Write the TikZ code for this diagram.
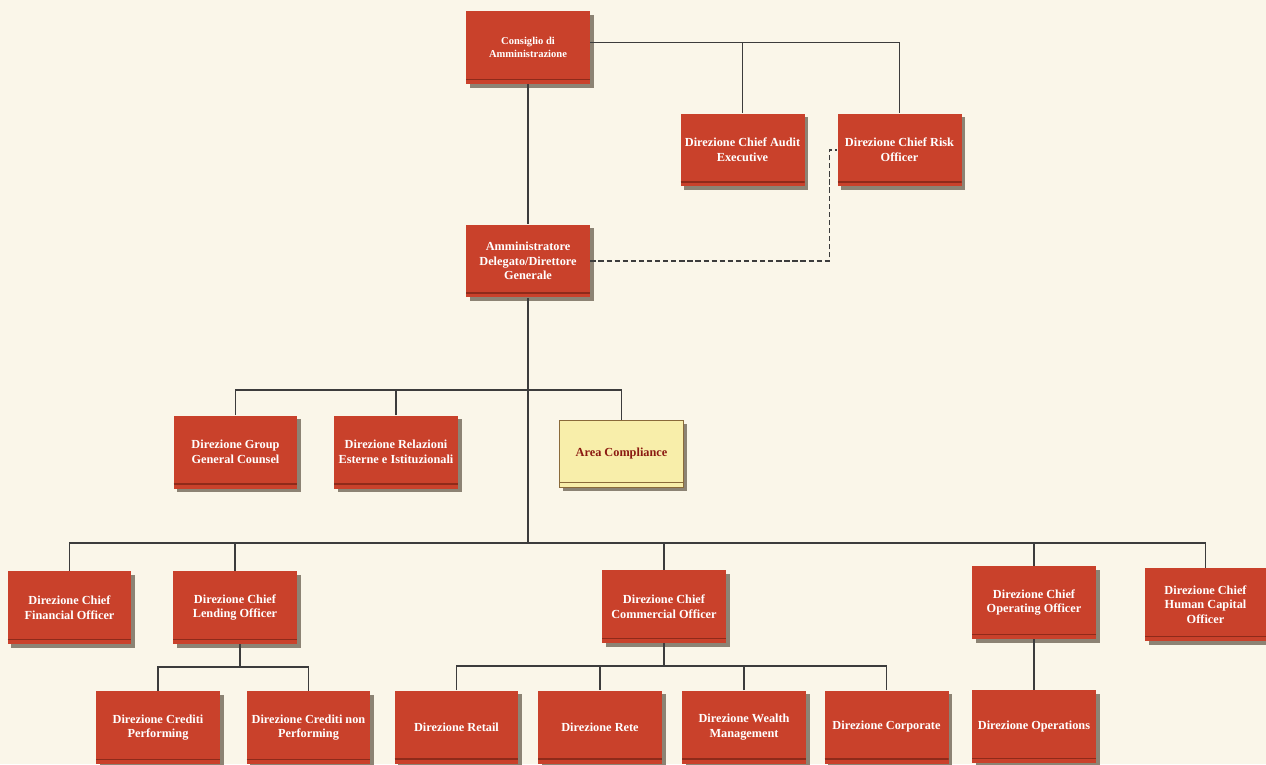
\documentclass[tikz,border=0pt]{standalone}
\usepackage{fontspec}
\setmainfont{Liberation Serif}
\usepackage{tikz}
\usetikzlibrary{shadows, positioning}

\definecolor{boxred}{HTML}{C9412B}
\definecolor{boxline}{HTML}{8E2A1A}
\definecolor{compyellow}{HTML}{F8EEAA}
\definecolor{compline}{HTML}{8A6A3A}
\definecolor{comptext}{HTML}{8B1A12}
\definecolor{paper}{HTML}{FAF6E9}
\definecolor{shade}{HTML}{8C8374}
\definecolor{wire}{HTML}{3C3C3C}

\begin{document}
\begin{tikzpicture}[x=0.02cm, y=-0.02cm,
    band/.style={boxline, line width=0.7pt},
    unit/.style={rectangle, fill=boxred, text=white, align=center, inner sep=1pt,
      font=\bfseries\fontsize{7}{8.4}\selectfont,
      minimum width=2.48cm, minimum height=1.46cm,
      drop shadow={shadow xshift=2pt, shadow yshift=-2pt, fill=shade, opacity=1},
      path picture={\draw[band] ([yshift=2.6pt]path picture bounding box.south west)
        -- ([yshift=2.6pt]path picture bounding box.south east);}},
    compliance/.style={unit, fill=compyellow, text=comptext, draw=compline, line width=0.5pt,
      minimum height=1.34cm, band/.style={compline, line width=0.6pt}},
    wire/.style={draw=wire, line width=0.6pt}]
    \useasboundingbox (0,0) rectangle (1266,764);
    \fill[paper] (0,0) rectangle (1266,764);

    \node[unit, font=\bfseries\fontsize{6}{7}\selectfont] (cda) at (528,47.5) {Consiglio di\\Amministrazione};
    \node[unit] (audit) at (742.5,150) {Direzione Chief Audit\\Executive};
    \node[unit] (risk) at (899.5,150) {Direzione Chief Risk\\Officer};
    \node[unit] (ad) at (528,261) {Amministratore\\Delegato/Direttore\\Generale};

    \node[unit] (counsel) at (235.5,452) {Direzione Group\\General Counsel};
    \node[unit] (relazioni) at (396,452) {Direzione Relazioni\\Esterne e Istituzionali};
    \node[compliance] (compliance) at (621.5,453.5) {Area Compliance};

    \node[unit] (cfo) at (69.5,607.5) {Direzione Chief\\Financial Officer};
    \node[unit] (clo) at (235,607.5) {Direzione Chief\\Lending Officer};
    \node[unit] (cco) at (664,606.5) {Direzione Chief\\Commercial Officer};
    \node[unit] (coo) at (1034,602.5) {Direzione Chief\\Operating Officer};
    \node[unit, minimum width=2.42cm] (chco) at (1205.5,604.5) {Direzione Chief\\Human Capital\\Officer};

    \node[unit] (performing) at (158,727.5) {Direzione Crediti\\Performing};
    \node[unit] (nonperf) at (308.5,727.5) {Direzione Crediti non\\Performing};
    \node[unit] (retail) at (456.5,727) {Direzione Retail};
    \node[unit] (rete) at (600,727) {Direzione Rete};
    \node[unit] (wealth) at (744,727) {Direzione Wealth\\Management};
    \node[unit] (corporate) at (886.5,727) {Direzione Corporate};
    \node[unit] (operations) at (1034,726.5) {Direzione Operations};

    \coordinate (board) at ([yshift=0.1cm]cda.east);
    \coordinate (staff) at (528,390);
    \coordinate (heads) at (528,543);
    \coordinate (lending) at (240,667);
    \coordinate (commercial) at (664,666);
    \coordinate (riskbend) at ([xshift=-0.16cm]risk.west);

    \draw[wire] (board) -| (risk.north);
    \draw[wire] (audit.north) -- (audit.north |- board);
    \draw[wire] (cda.south) -- (ad.north);
    \draw[wire, dash pattern=on 3pt off 1.6pt] (ad.east) -| (riskbend) -- (risk.west);

    \draw[wire] (ad.south) -- (heads);
    \draw[wire] (counsel.north) |- (staff);
    \draw[wire] (compliance.north) |- (staff);
    \draw[wire] (relazioni.north) -- (relazioni.north |- staff);

    \draw[wire] (cfo.north) |- (heads);
    \draw[wire] (chco.north) |- (heads);
    \foreach \n in {clo, cco, coo} {
      \draw[wire] (\n.north) -- (\n.north |- heads);
    }

    \draw[wire] (clo.south -| lending) -- (lending);
    \draw[wire] (performing.north) |- (lending);
    \draw[wire] (nonperf.north) |- (lending);

    \draw[wire] (cco.south) -- (commercial);
    \draw[wire] (retail.north) |- (commercial);
    \draw[wire] (corporate.north) |- (commercial);
    \foreach \n in {rete, wealth} {
      \draw[wire] (\n.north) -- (\n.north |- commercial);
    }

    \draw[wire] (coo.south) -- (operations.north);
  \end{tikzpicture}
\end{document}
